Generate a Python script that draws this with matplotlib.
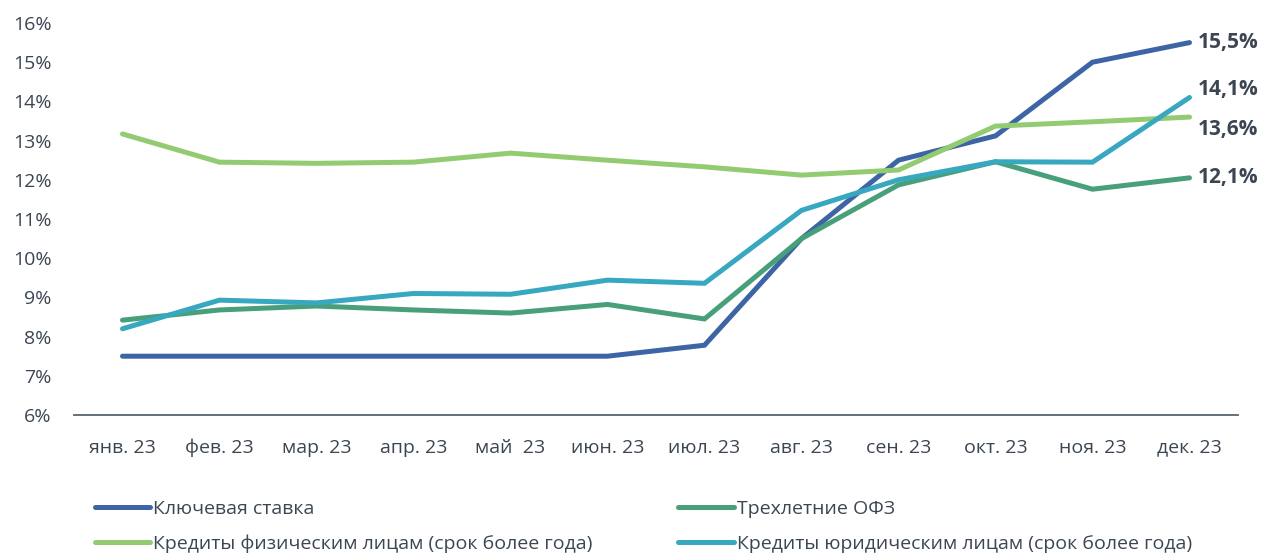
import matplotlib.pyplot as plt
from matplotlib.ticker import FuncFormatter

plt.rcParams['font.family'] = ['Open Sans', 'DejaVu Sans']

months = ["янв. 23", "фев. 23", "мар. 23", "апр. 23", "май  23", "июн. 23",
          "июл. 23", "авг. 23", "сен. 23", "окт. 23", "ноя. 23", "дек. 23"]

key_rate = [7.5, 7.5, 7.5, 7.5, 7.5, 7.5, 7.78, 10.5, 12.5, 13.12, 15.0, 15.5]
ofz_3y = [8.42, 8.68, 8.78, 8.68, 8.6, 8.82, 8.45, 10.5, 11.87, 12.46, 11.76, 12.05]
retail_loans = [13.17, 12.45, 12.42, 12.45, 12.68, 12.5, 12.33, 12.12, 12.25, 13.37, 13.48, 13.6]
corp_loans = [8.2, 8.93, 8.86, 9.1, 9.08, 9.44, 9.36, 11.22, 12.0, 12.46, 12.45, 14.1]

end_labels = ["15,5%", "12,1%", "13,6%", "14,1%"]
label_shift = [0.0, 0.0, -0.32, 0.2]

series = [
    ("Ключевая ставка", key_rate, "#3D64A4"),
    ("Трехлетние ОФЗ", ofz_3y, "#47A07A"),
    ("Кредиты физическим лицам (срок более года)", retail_loans, "#93CB72"),
    ("Кредиты юридическим лицам (срок более года)", corp_loans, "#37A8BF"),
]

text_color = "#3C4652"

fig = plt.figure(figsize=(12.63, 5.56), dpi=100)
ax = fig.add_axes([74 / 1263, 1 - 415 / 556, 1164 / 1263, (415 - 23) / 556])

x = list(range(len(months)))
handles = []
for (name, vals, color), lab, dy in zip(series, end_labels, label_shift):
    h, = ax.plot(x, vals, color=color, lw=3.6, solid_capstyle="round",
                 solid_joinstyle="miter", label=name)
    handles.append(h)
    ax.annotate(lab, (x[-1], vals[-1] + dy), xytext=(6, 0), textcoords="offset points",
                va="center", ha="left", fontsize=15, fontweight="bold", color=text_color,
                annotation_clip=False)

ax.set_xlim(-0.5, len(months) - 0.5)
ax.set_ylim(6, 16)
ax.set_yticks(range(6, 17))
ax.yaxis.set_major_formatter(FuncFormatter(lambda v, _: f"{v:.0f}%"))
ax.set_xticks(x)
ax.set_xticklabels(months)

for s in ["top", "right", "left"]:
    ax.spines[s].set_visible(False)
ax.spines["bottom"].set_color("#5A636C")
ax.spines["bottom"].set_linewidth(1.3)
ax.tick_params(axis="both", length=0, labelsize=14, labelcolor=text_color)
ax.tick_params(axis="y", pad=16)
ax.tick_params(axis="x", pad=17)

order = [0, 2, 1, 3]
leg = fig.legend([handles[i] for i in order], [series[i][0] for i in order],
                 ncol=2, loc="upper left", bbox_to_anchor=(95 / 1263, 1 - 500 / 556),
                 frameon=False, fontsize=14, handlelength=2.85, handletextpad=0.15,
                 columnspacing=4.4, labelspacing=0.85, borderaxespad=0, borderpad=0)
for t in leg.get_texts():
    t.set_color(text_color)

fig.savefig("out.png", dpi=100)
